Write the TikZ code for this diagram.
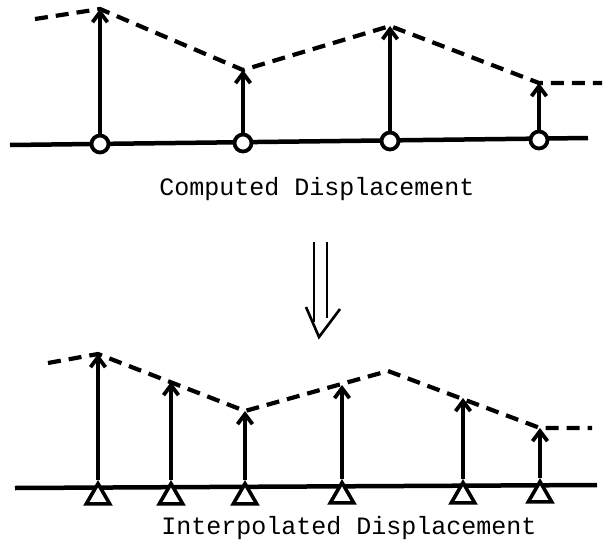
\documentclass[tikz,border=0pt]{standalone}
\usepackage{fontspec}
\newfontfamily\monofnt{Liberation Mono}
\usetikzlibrary{arrows.meta,shapes.geometric}
\tikzset{
  axisline/.style={line width=4.5pt},
  displine/.style={line width=4.2pt, dash pattern=on 13pt off 8pt},
  disparrow/.style={line width=3.8pt, -{Straight Barb[length=10pt,width=15pt]}},
  compnode/.style={circle, draw, fill=white, line width=3.8pt, minimum size=17pt, inner sep=0pt},
  interpnode/.style={regular polygon, regular polygon sides=3, draw, fill=white, line width=3.6pt, minimum size=27pt, inner sep=0pt, anchor=corner 1},
  label/.style={font=\monofnt\fontsize{25}{30}\selectfont, anchor=base, inner sep=0pt},
  bigarrow/.style={line width=2.6pt}
}
\begin{document}
\begin{tikzpicture}[x=1pt,y=-1pt]
\useasboundingbox (0,0) rectangle (606,541);
% ---- top: computed displacement ----
\coordinate (ta) at (10,145);
\coordinate (tb) at (588,138);
\draw[axisline] (ta) -- (tb);
\coordinate (d0) at (35,19);
\coordinate (p1) at (100,9);
\coordinate (p2) at (243,70);
\coordinate (p3) at (390,26);
\coordinate (p4) at (539,83);
\coordinate (d5) at (602,83);
\draw[displine] (d0) -- (p1) -- (p2) -- (p3) -- (p4) -- (d5);
\node[compnode] (c1) at (100,144) {};
\node[compnode] (c2) at (243,143) {};
\node[compnode] (c3) at (390,141) {};
\node[compnode] (c4) at (539,140) {};
\draw[disparrow] (c1) -- (p1);
\draw[disparrow] (c2) -- (p2);
\draw[disparrow] (c3) -- (p3);
\draw[disparrow] (c4) -- (p4);
\node[label] (lt) at (317,195) {Computed Displacement};
% ---- double arrow ----
\coordinate (la) at (314,242);
\coordinate (lb) at (314,322);
\coordinate (ra) at (327,242);
\coordinate (rb) at (327,318);
\coordinate (vl) at (306,307);
\coordinate (vt) at (319,337);
\coordinate (vr) at (340,309);
\draw[bigarrow] (la) -- (lb);
\draw[bigarrow] (ra) -- (rb);
\draw[bigarrow, line join=miter] (vl) -- (vt) -- (vr);
% ---- bottom: interpolated displacement ----
\coordinate (ba) at (15,488);
\coordinate (bb) at (597,485);
\draw[axisline] (ba) -- (bb);
\coordinate (e0) at (48,363);
\coordinate (q1) at (98,354);
\coordinate (q3) at (245,411);
\coordinate (qm) at (388,371);
\coordinate (q6) at (540,428);
\coordinate (e5) at (592,428);
\draw[displine] (e0) -- (q1) -- (q3) -- (qm) -- (q6) -- (e5);
\coordinate (q2) at (171,382);
\coordinate (q4) at (342,385);
\coordinate (q5) at (463,398);
\node[interpnode] (i1) at (98,480) {};
\node[interpnode] (i2) at (171,480) {};
\node[interpnode] (i3) at (245,480) {};
\node[interpnode] (i4) at (342,479) {};
\node[interpnode] (i5) at (463,479) {};
\node[interpnode] (i6) at (540,478) {};
\draw[disparrow] (i1.corner 1) -- (q1);
\draw[disparrow] (i2.corner 1) -- (q2);
\draw[disparrow] (i3.corner 1) -- (q3);
\draw[disparrow] (i4.corner 1) -- (q4);
\draw[disparrow] (i5.corner 1) -- (q5);
\draw[disparrow] (i6.corner 1) -- (q6);
\node[label] (lb2) at (349,534) {Interpolated Displacement};
\end{tikzpicture}
\end{document}
